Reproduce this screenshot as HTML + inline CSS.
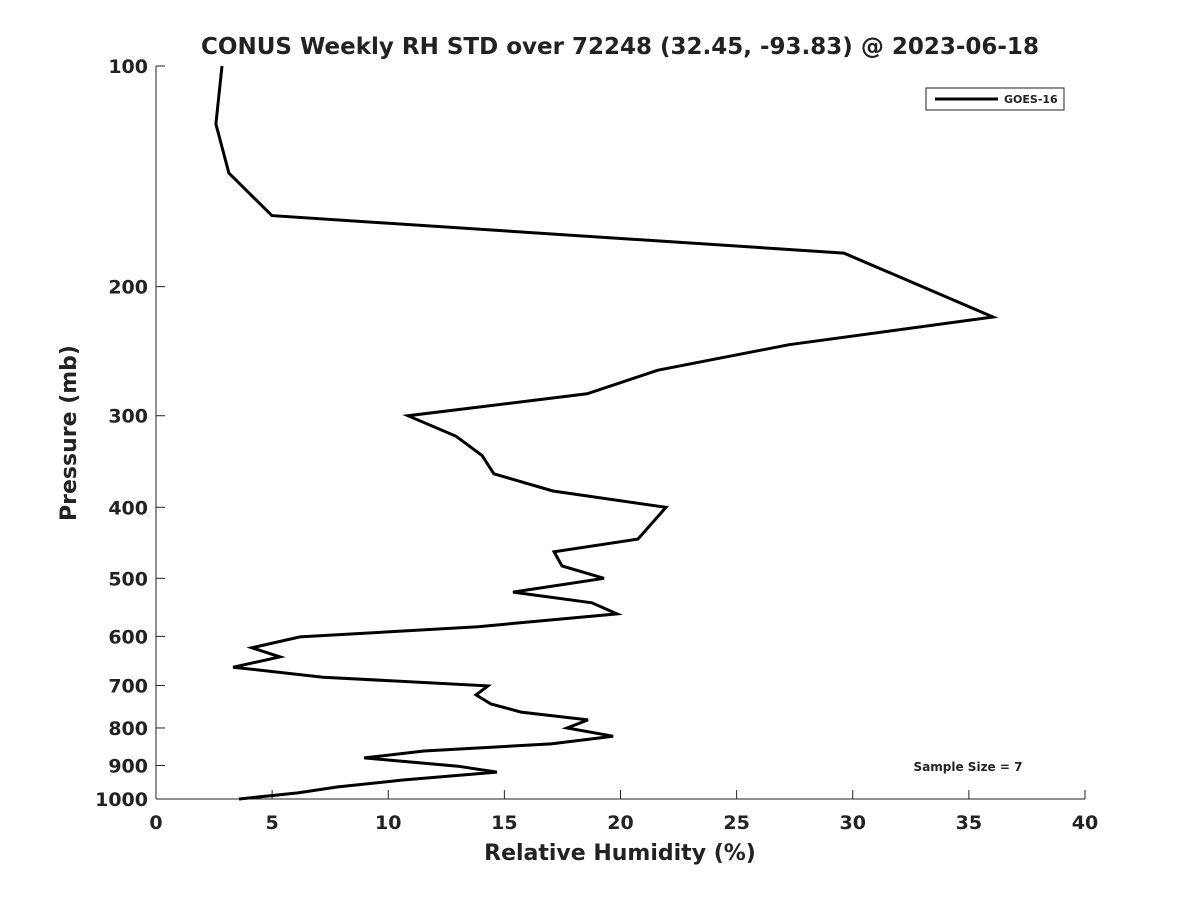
<!DOCTYPE html>
<html><head><meta charset="utf-8"><style>
body{margin:0;background:#fff;font-family:"Liberation Sans","DejaVu Sans",sans-serif;}
svg text{font-family:"DejaVu Sans","Liberation Sans",sans-serif;font-weight:bold;fill:#222;}
</style></head><body>
<svg id="chart" width="1200" height="900">
<rect width="1200" height="900" fill="#fff"/>
<text x="620" y="54" text-anchor="middle" font-size="23">CONUS Weekly RH STD over 72248 (32.45, -93.83) @ 2023-06-18</text>
<g id="axes"></g>
<g id="series"></g>
<rect x="926" y="88" width="138" height="22" fill="#fff" stroke="#222" stroke-width="1"/>
<line x1="935" y1="99" x2="998" y2="99" stroke="#000" stroke-width="3"/>
<text x="1004" y="103" font-size="11">GOES-16</text>
<text x="968" y="771" text-anchor="middle" font-size="12">Sample Size = 7</text>
<text x="620" y="860" text-anchor="middle" font-size="22">Relative Humidity (%)</text>
<text transform="translate(76,433) rotate(-90)" text-anchor="middle" font-size="22">Pressure (mb)</text>
</svg>
<script>
const xTicks=[0,5,10,15,20,25,30,35,40];
const yTicks=[100,200,300,400,500,600,700,800,900,1000];
const rhValues=[2.84,2.58,3.14,4.99,29.62,36.04,27.26,21.61,18.56,10.85,12.92,14.04,14.55,17.09,21.96,20.75,17.14,17.48,19.29,15.37,18.77,19.85,13.86,6.20,4.13,5.34,3.32,7.19,14.29,13.78,14.42,15.72,18.60,17.70,19.68,17.01,11.54,8.96,13.0,14.68,10.63,7.79,6.11,3.57];
const pressures=[100,120,140,160,180,220,240,260,280,300,320,340,360,380,400,442,460,481,500,522,540,559,582,601,622,640,661,682,701,721,742,761,780,800,821,841,860,879,902,919,942,963,981,1000];
const X0=156,X1=1085,Y0=66,Y1=799;
const xs=v=>X0+(v-0)/(40-0)*(X1-X0);
const ys=p=>Y0+(Math.log10(p)-2)*(Y1-Y0);
const NS="http://www.w3.org/2000/svg";
const axes=document.getElementById('axes');
function mk(tag,attrs,parent){const e=document.createElementNS(NS,tag);for(const k in attrs)e.setAttribute(k,attrs[k]);parent.appendChild(e);return e;}
let a=mk('line',{x1:X0,y1:Y0,x2:X0,y2:Y1,stroke:'#222','stroke-width':1},axes);


a=mk('line',{x1:X0,y1:Y1,x2:X1,y2:Y1,stroke:'#222','stroke-width':1},axes);


xTicks.forEach(t=>{
 const l=mk('line',{x1:xs(t),y1:Y1,x2:xs(t),y2:Y1-9,stroke:'#222'},axes);
 
 
 const tx=mk('text',{x:xs(t),y:Y1+30,'text-anchor':'middle','font-size':19},axes);
 tx.textContent=t;
 
 
});
yTicks.forEach(t=>{
 const l=mk('line',{x1:X0,y1:ys(t),x2:X0+9,y2:ys(t),stroke:'#222'},axes);
 
 
 const tx=mk('text',{x:X0-8,y:ys(t)+7,'text-anchor':'end','font-size':19},axes);
 tx.textContent=t;
 
 
});
const pts=rhValues.map((v,i)=>xs(v).toFixed(1)+','+ys(pressures[i]).toFixed(1)).join(' ');
const pl=mk('polyline',{points:pts,fill:'none',stroke:'#000','stroke-width':3,'stroke-linejoin':'miter'},document.getElementById('series'));


</script>
</body></html>
